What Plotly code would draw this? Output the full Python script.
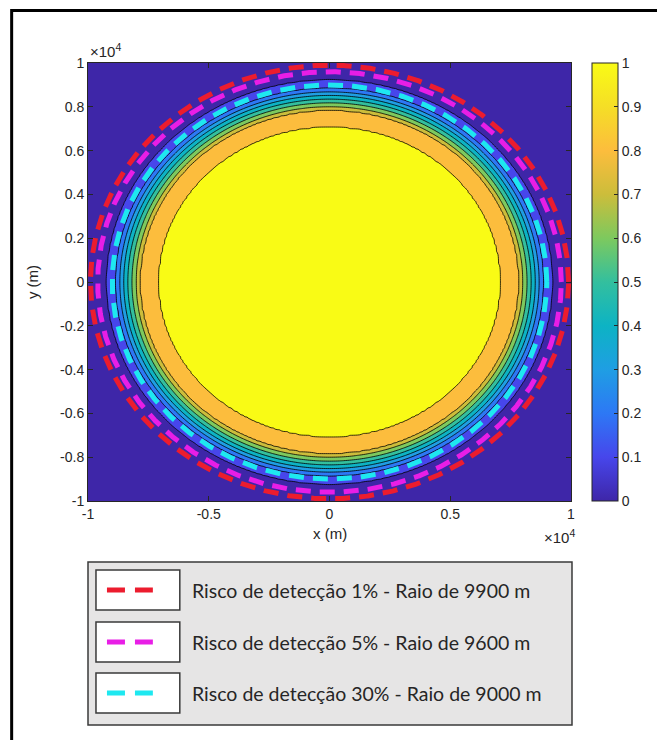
import numpy as np
import plotly.graph_objects as go

# ---------------- data ----------------
# radial profile of the detection probability (contour bands)
profile_r = [0, 6950, 7050, 7850, 8000, 8180, 8350, 8520, 8680, 8850, 9250, 9400, 15000]
profile_p = [1.0, 1.0, 0.9, 0.8, 0.7, 0.6, 0.5, 0.4, 0.3, 0.2, 0.1, 0.0, 0.0]

circle_radius = [9900, 9600, 9000]
circle_risk = [1, 5, 30]
legend_labels = ["Risco de detecção 1% - Raio de 9900 m",
                 "Risco de detecção 5% - Raio de 9600 m",
                 "Risco de detecção 30% - Raio de 9000 m"]

x_tickvals = [-10000, -5000, 0, 5000, 10000]
x_ticktext = ["-1", "-0.5", "0", "0.5", "1"]
y_tickvals = [-10000, -8000, -6000, -4000, -2000, 0, 2000, 4000, 6000, 8000, 10000]
y_ticktext = ["-1", "-0.8", "-0.6", "-0.4", "-0.2", "0", "0.2", "0.4", "0.6", "0.8", "1"]
cb_tickvals = [0, 0.1, 0.2, 0.3, 0.4, 0.5, 0.6, 0.7, 0.8, 0.9, 1]
cb_ticktext = ["0", "0.1", "0.2", "0.3", "0.4", "0.5", "0.6", "0.7", "0.8", "0.9", "1"]

# ---------------- styles ----------------
W, H = 657, 740
L, R, T, B = 88, 85, 63, 239
PW, PH = W - L - R, H - T - B
TXT = "#262626"

def px(xp):
    return (xp - L) / PW

def py(yp):
    return (H - B - yp) / PH

parula = [
    [0.0, "#3e26a8"], [0.1, "#4746eb"], [0.2, "#2d78f5"], [0.3, "#1f9ee3"],
    [0.4, "#0db3c4"], [0.5, "#33bf9e"], [0.6, "#7dc95e"], [0.7, "#ccbd3b"],
    [0.8, "#fcbd3d"], [0.9, "#f5de26"], [1.0, "#f9fb15"],
]
pcol = {round(s, 1): c for s, c in parula}
# band colours (MATLAB contourf style: lower level colour, top plateau yellow)
band_cols = [pcol[0.0], pcol[0.1], pcol[0.2], pcol[0.3], pcol[0.4],
             pcol[0.5], pcol[0.6], pcol[0.7], pcol[0.8], pcol[1.0]]
band_scale = [[k / 9, c] for k, c in enumerate(band_cols)]

circle_colors = ["#ec1c2e", "#e81ee6", "#1ee8f0"]

# ---------------- grid for the contour ----------------
gx = np.linspace(-10000, 10000, 241)
gy = np.linspace(-10000, 10000, 241)
XX, YY = np.meshgrid(gx, gy)
Z = np.interp(np.hypot(XX, YY), profile_r, profile_p)

fig = go.Figure()
fig.add_trace(go.Contour(
    x=gx, y=gy, z=Z, autocontour=False,
    contours=dict(start=0.1, end=0.9, size=0.1, coloring="fill", showlines=True),
    colorscale=band_scale, showscale=False,
    line=dict(color="black", width=0.8), hoverinfo="skip",
))

theta = np.linspace(0, 2 * np.pi, 1441)
for rad, col in zip(circle_radius, circle_colors):
    fig.add_trace(go.Scatter(
        x=rad * np.cos(theta), y=rad * np.sin(theta), mode="lines",
        line=dict(color=col, width=5, dash="15px,9px"),
        showlegend=False, hoverinfo="skip",
    ))

# continuous colorbar
fig.add_trace(go.Scatter(
    x=[0], y=[0], mode="markers", showlegend=False, hoverinfo="skip",
    marker=dict(size=1, opacity=0, color=[0.5], colorscale=parula, cmin=0, cmax=1,
                showscale=True,
                colorbar=dict(x=px(592), xanchor="left", y=0.5, yanchor="middle",
                              len=1, lenmode="fraction", thickness=26, xpad=0, ypad=0,
                              outlinewidth=1, outlinecolor=TXT,
                              ticks="inside", ticklen=4, tickcolor=TXT,
                              tickvals=cb_tickvals, ticktext=cb_ticktext,
                              tickfont=dict(family="Liberation Sans", size=14, color=TXT))),
))

axis_common = dict(showgrid=False, zeroline=False, showline=True, mirror="ticks",
                   linecolor=TXT, linewidth=1, ticks="inside", ticklen=5,
                   tickcolor=TXT, tickfont=dict(family="Liberation Sans", size=14, color=TXT))

fig.update_layout(
    width=W, height=H, margin=dict(l=L, r=R, t=T, b=B),
    paper_bgcolor="white", plot_bgcolor="white",
    xaxis=dict(range=[-10000, 10000], tickvals=x_tickvals, ticktext=x_ticktext, **axis_common),
    yaxis=dict(range=[-10000, 10000], tickvals=y_tickvals, ticktext=y_ticktext, **axis_common),
    font=dict(family="Liberation Sans", color=TXT),
)

shapes = []
ann = []
# outer frame of the figure
shapes.append(dict(type="rect", xref="paper", yref="paper",
                   x0=px(11.5), x1=px(720), y0=py(10.5), y1=py(800),
                   line=dict(color="black", width=3), fillcolor="rgba(0,0,0,0)", layer="below"))

# axis labels and exponents
ann.append(dict(text="×10<sup>4</sup>", x=px(88), y=py(50), xref="paper", yref="paper",
                xanchor="left", yanchor="middle", showarrow=False,
                font=dict(family="Liberation Sans", size=15, color=TXT)))
ann.append(dict(text="×10<sup>4</sup>", x=px(578), y=py(536), xref="paper", yref="paper",
                xanchor="right", yanchor="middle", showarrow=False,
                font=dict(family="Liberation Sans", size=15, color=TXT)))
ann.append(dict(text="x (m)", x=px(330), y=py(533), xref="paper", yref="paper",
                xanchor="center", yanchor="middle", showarrow=False,
                font=dict(family="Liberation Sans", size=15, color=TXT)))
ann.append(dict(text="y (m)", x=px(32), y=py(282), xref="paper", yref="paper",
                xanchor="center", yanchor="middle", textangle=-90, showarrow=False,
                font=dict(family="Liberation Sans", size=15, color=TXT)))

# legend box
shapes.append(dict(type="rect", xref="paper", yref="paper",
                   x0=px(88), x1=px(573), y0=py(562), y1=py(725),
                   line=dict(color="#3a3a3a", width=1.5), fillcolor="#e6e5e5"))
row_y = [590, 642, 693]
for lab, col, yc in zip(legend_labels, circle_colors, row_y):
    shapes.append(dict(type="rect", xref="paper", yref="paper",
                       x0=px(96), x1=px(180), y0=py(yc - 20), y1=py(yc + 20),
                       line=dict(color="#3a3a3a", width=1.5), fillcolor="white"))
    shapes.append(dict(type="line", xref="paper", yref="paper",
                       x0=px(107), x1=px(153), y0=py(yc), y1=py(yc),
                       line=dict(color=col, width=5, dash="18px,10px")))
    ann.append(dict(text=lab, x=px(190), y=py(yc), xref="paper", yref="paper",
                    xanchor="left", yanchor="middle", showarrow=False,
                    font=dict(family="Lato", size=19.5, color="#262626")))

fig.update_layout(shapes=shapes, annotations=ann)
fig.write_html("out.html")
